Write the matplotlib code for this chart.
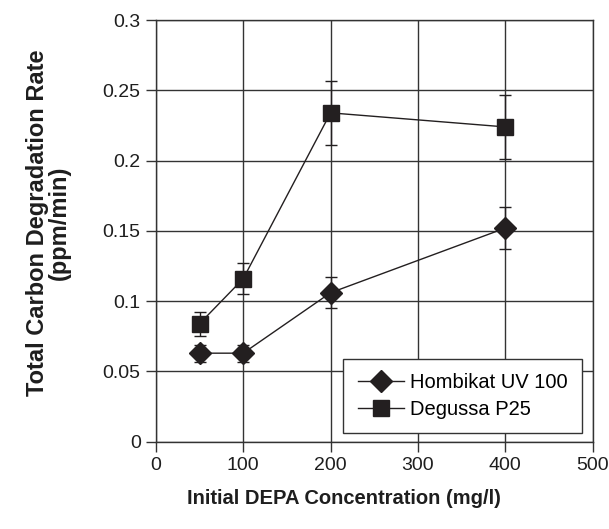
import matplotlib
matplotlib.use("Agg")
import matplotlib.pyplot as plt

plt.rcParams['font.family'] = ['Liberation Sans', 'DejaVu Sans']

# data
conc = [50, 100, 200, 400]
hombikat = [0.063, 0.063, 0.106, 0.152]
hombikat_err = [0.006, 0.006, 0.011, 0.015]
degussa = [0.084, 0.116, 0.234, 0.224]
degussa_err = [0.0086, 0.011, 0.023, 0.0225]

ink = '#231f20'
grid_col = '#333333'
txt = '#1e1e1e'

fig = plt.figure(figsize=(6.09, 5.29), dpi=100)
ax = fig.add_axes([0.256, 0.165, 0.717, 0.797])

h1 = ax.errorbar(conc, hombikat, yerr=hombikat_err, color=ink, lw=1.0,
                 marker='D', markersize=11, capsize=4, elinewidth=1.0,
                 capthick=1.0, zorder=3)
h2 = ax.errorbar(conc, degussa, yerr=degussa_err, color=ink, lw=1.0,
                 marker='s', markersize=11, capsize=4, elinewidth=1.0,
                 capthick=1.0, zorder=3)

ax.set_xlim(0, 500)
ax.set_ylim(0, 0.3)
ax.set_xticks([0, 100, 200, 300, 400, 500])
ax.set_yticks([0, 0.05, 0.1, 0.15, 0.2, 0.25, 0.3])
ax.set_yticklabels(['0', '0.05', '0.1', '0.15', '0.2', '0.25', '0.3'])
ax.grid(True, color=grid_col, lw=1.0)
ax.set_axisbelow(True)
for s in ax.spines.values():
    s.set_color(grid_col)
    s.set_linewidth(1.0)
ax.tick_params(direction='out', length=7, width=1.0, color=grid_col,
               labelsize=14, pad=4, labelcolor=txt)

ax.set_xlabel('Initial DEPA Concentration (mg/l)', fontsize=14.5,
              fontweight='bold', color=txt)
ax.xaxis.set_label_coords(0.43, -0.112)
ax.set_ylabel('Total Carbon Degradation Rate\n(ppm/min)', fontsize=17,
              fontweight='bold', color=txt, linespacing=0.95)
ax.yaxis.set_label_coords(-0.195, 0.52)

# legend shows only line + marker, no error bars
leg = ax.legend([h1[0], h2[0]], ['Hombikat UV 100', 'Degussa P25'],
                loc='lower right', bbox_to_anchor=(0.975, 0.021),
                fontsize=14.5, frameon=True, fancybox=False,
                borderpad=0.7, labelspacing=0.4, handlelength=2.3,
                handletextpad=0.3, borderaxespad=0)
leg.get_frame().set_edgecolor(grid_col)
leg.get_frame().set_linewidth(1.0)
leg.get_frame().set_alpha(1)

fig.savefig('out.png', dpi=100)
